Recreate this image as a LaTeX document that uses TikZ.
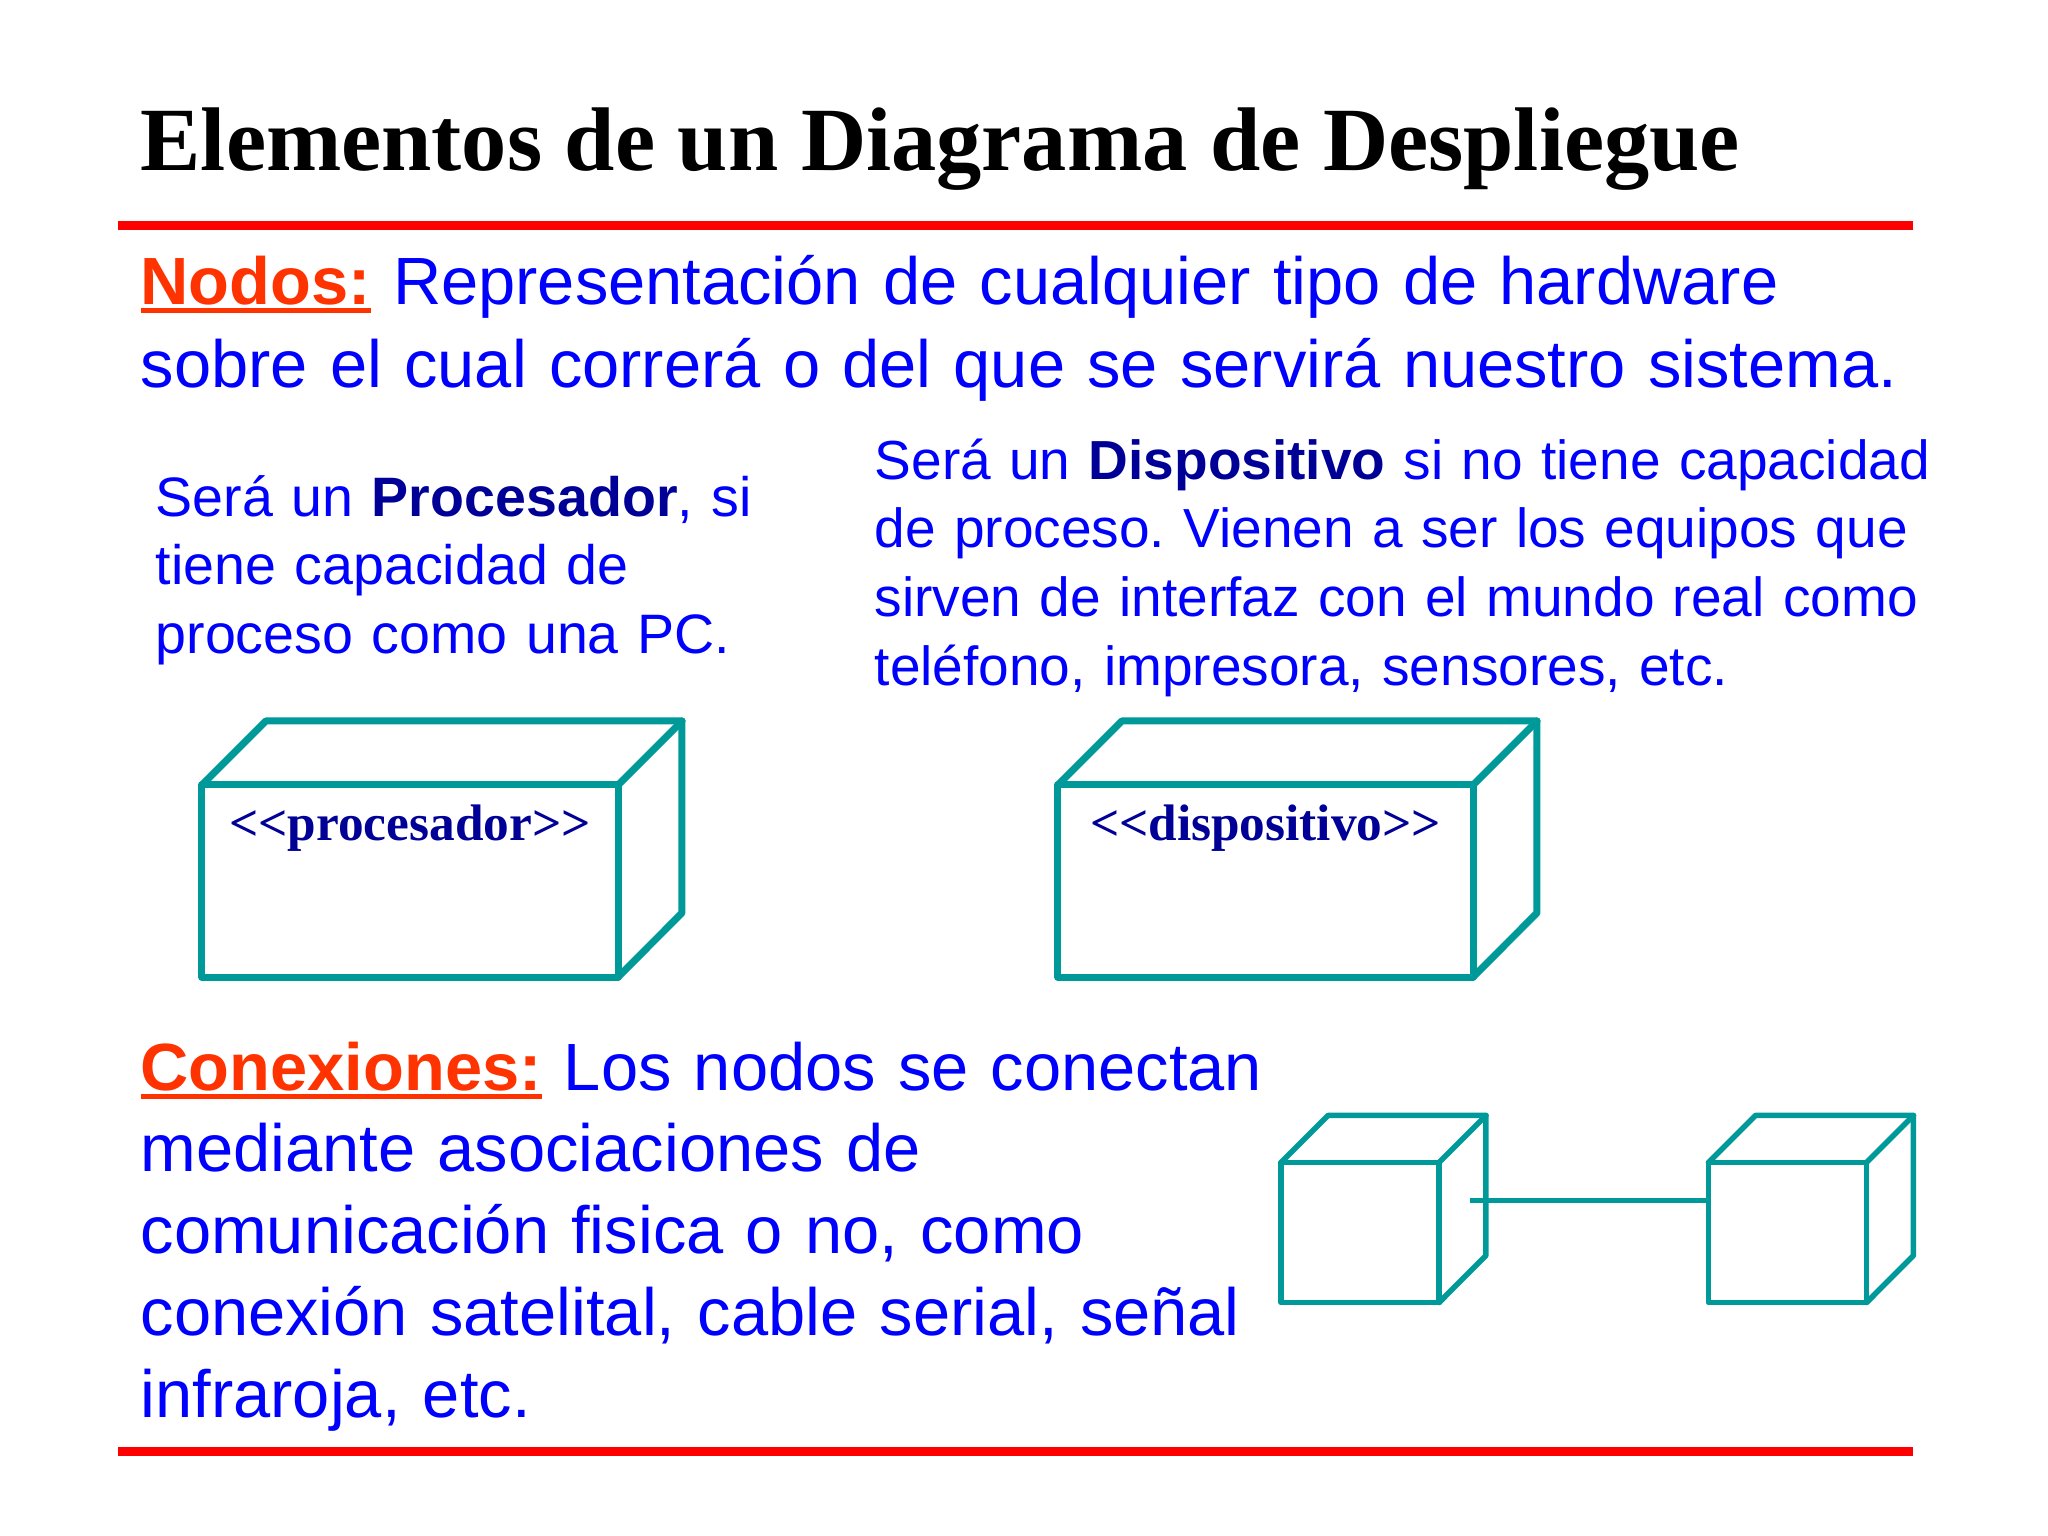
\documentclass[tikz,border=0pt]{standalone}
\usepackage{fontspec}
\usepackage{tikz}
\usetikzlibrary{positioning}
\setmainfont{Liberation Sans}
\newfontfamily\titlefont{Liberation Serif}

\definecolor{tealnode}{RGB}{0,153,153}
\definecolor{navytext}{RGB}{0,0,150}
\definecolor{orangelbl}{RGB}{255,51,0}
\definecolor{bluetext}{RGB}{0,0,255}
\definecolor{redline}{RGB}{255,0,0}

\newsavebox{\keybox}
\newcommand{\keyword}[1]{\sbox{\keybox}{\color{orangelbl}\textbf{#1}}{\color{orangelbl}\rlap{\rule[-0.085cm]{\wd\keybox}{0.05cm}}\usebox{\keybox}}}
\newcommand{\kind}[1]{{\color{navytext}\textbf{#1}}}
\frenchspacing

\begin{document}
\begin{tikzpicture}[x=0.01cm, y=-0.01cm,
			face/.style={draw=tealnode, line width=0.07cm, line join=round, inner sep=0pt, outer sep=0pt},
			edge/.style={draw=tealnode, line width=0.07cm, line join=round, line cap=round},
			smallface/.style={face, line width=0.055cm, minimum width=1.58cm, minimum height=1.40cm},
			smalledge/.style={edge, line width=0.055cm},
			txt/.style={anchor=base west, inner sep=0pt, align=left, color=bluetext},
			stereo/.style={anchor=base, inner sep=0pt, color=navytext, font=\titlefont\bfseries\fontsize{14.6}{17}\selectfont}
		]
		\useasboundingbox (0,0) rectangle (2048,1535);

		\node[anchor=base west, inner sep=0pt, font=\titlefont\bfseries\fontsize{25.7}{30}\selectfont] (title) at (140,170) {Elementos de un Diagrama de Despliegue};
		\draw[redline, line width=0.09cm] (118,225) -- (1913,225);
		\draw[redline, line width=0.09cm] (118,1451) -- (1913,1451);

		\node[txt, font=\fontsize{19}{23.6}\selectfont, text width=18.5cm] (nodos) at (140,304)
			{\keyword{Nodos:} Representación de cualquier tipo de hardware\\
			sobre el cual correrá o del que se servirá nuestro sistema.};

		\node[txt, font=\fontsize{15.8}{19.6}\selectfont, text width=7cm] (proc) at (155,516)
			{Será un \kind{Procesador}, si\\
			tiene capacidad de\\
			proceso como una PC.};

		\node[txt, font=\fontsize{15.65}{19.6}\selectfont, text width=11.5cm] (disp) at (874,479)
			{Será un \kind{Dispositivo} si no tiene capacidad\\
			de proceso. Vienen a ser los equipos que\\
			sirven de interfaz con el mundo real como\\
			teléfono, impresora, sensores, etc.};

		\node[txt, font=\fontsize{19}{23.3}\selectfont, text width=12cm] (conex) at (140,1090)
			{\keyword{Conexiones:} Los nodos se conectan\\
			mediante asociaciones de\\
			comunicación fisica o no, como\\
			conexión satelital, cable serial, señal\\
			infraroja, etc.};

		% procesador
		\node[face, minimum width=4.16cm, minimum height=1.92cm] (pfront) at (410,881) {};
		\draw[edge] (pfront.north west) -- ++(64,-64) -- ++(416,0) -- ++(0,192) -- (pfront.south east);
		\draw[edge] (pfront.north east) -- ++(64,-64);
		\node[stereo] (plabel) at ([yshift=-0.55cm]pfront.north) {<\kern0pt<procesador>\kern0pt>};

		% dispositivo
		\node[face, minimum width=4.15cm, minimum height=1.92cm] (dfront) at (1265.5,881) {};
		\draw[edge] (dfront.north west) -- ++(64,-64) -- ++(415,0) -- ++(0,192) -- (dfront.south east);
		\draw[edge] (dfront.north east) -- ++(64,-64);
		\node[stereo] (dlabel) at ([yshift=-0.55cm]dfront.north) {<\kern0pt<dispositivo>\kern0pt>};

		% conexion
		\node[smallface] (cubea) at (1360,1232.5) {};
		\draw[smalledge] (cubea.north west) -- ++(47,-47) -- ++(158,0) -- ++(0,140) -- (cubea.south east);
		\draw[smalledge] (cubea.north east) -- ++(47,-47);

		\node[smallface] (cubeb) at (1787.5,1232.5) {};
		\draw[smalledge] (cubeb.north west) -- ++(47,-47) -- ++(158,0) -- ++(0,140) -- (cubeb.south east);
		\draw[smalledge] (cubeb.north east) -- ++(47,-47);

		\coordinate (linkstart) at (1470,1200);
		\draw[tealnode, line width=0.05cm] (linkstart) -- (linkstart -| cubeb.west);
	\end{tikzpicture}
\end{document}
